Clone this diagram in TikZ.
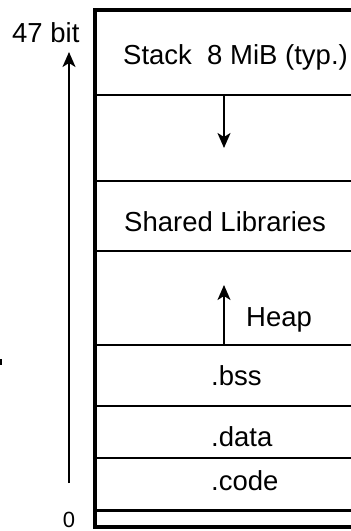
\documentclass[tikz,border=0pt]{standalone}
\usepackage{fontspec}
\setmainfont{Liberation Sans}
\usetikzlibrary{arrows.meta}
\begin{document}
\begin{tikzpicture}[x=1pt, y=-1pt,
    every node/.style={font=\fontsize{27.5}{32}\selectfont, inner sep=0pt},
    seg/.style={line width=2pt},
    growarrow/.style={line width=2pt, -{Stealth[length=15pt, width=13pt, inset=4pt]}}]
    \clip (0,0) rectangle (351,531);
    \useasboundingbox (0,0) rectangle (351,531);
    % memory layout
    \draw[line width=3.5pt] (95,10) rectangle (390,527);
    \foreach \y in {95,181,251,345,406,458} \draw[seg] (95,\y) -- (390,\y);
    \draw[line width=3pt] (95,510) -- (390,510);
    \node[anchor=base west] (stack) at (123,64) {Stack\ \ 8 MiB (typ.)};
    \node[anchor=base west] (shlib) at (124,231) {Shared Libraries};
    \node[anchor=base west] (heap) at (246,326) {Heap};
    \node[anchor=base west] (bss) at (211,385) {.bss};
    \node[anchor=base west] (data) at (211,446) {.data};
    \node[anchor=base west] (code) at (211,490) {.code};
    % address range
    \node[anchor=south, font=\fontsize{22}{24}\selectfont] (zero) at (69,528) {0};
    \node[anchor=base west] (top) at (12,42) {47 bit};
    \coordinate (lo) at (69,483);
    \coordinate (hi) at (69,52);
    \draw[growarrow] (lo) -- (hi);
    % growth
    \coordinate (s0) at (224,96);
    \coordinate (s1) at (224,148);
    \draw[growarrow] (s0) -- (s1);
    \coordinate (h0) at (224,345);
    \coordinate (h1) at (224,285);
    \draw[growarrow] (h0) -- (h1);
    \coordinate (t0) at (1,359);
    \coordinate (t1) at (1,365);
    \draw[line width=2pt] (t0) -- (t1);
\end{tikzpicture}
\end{document}
